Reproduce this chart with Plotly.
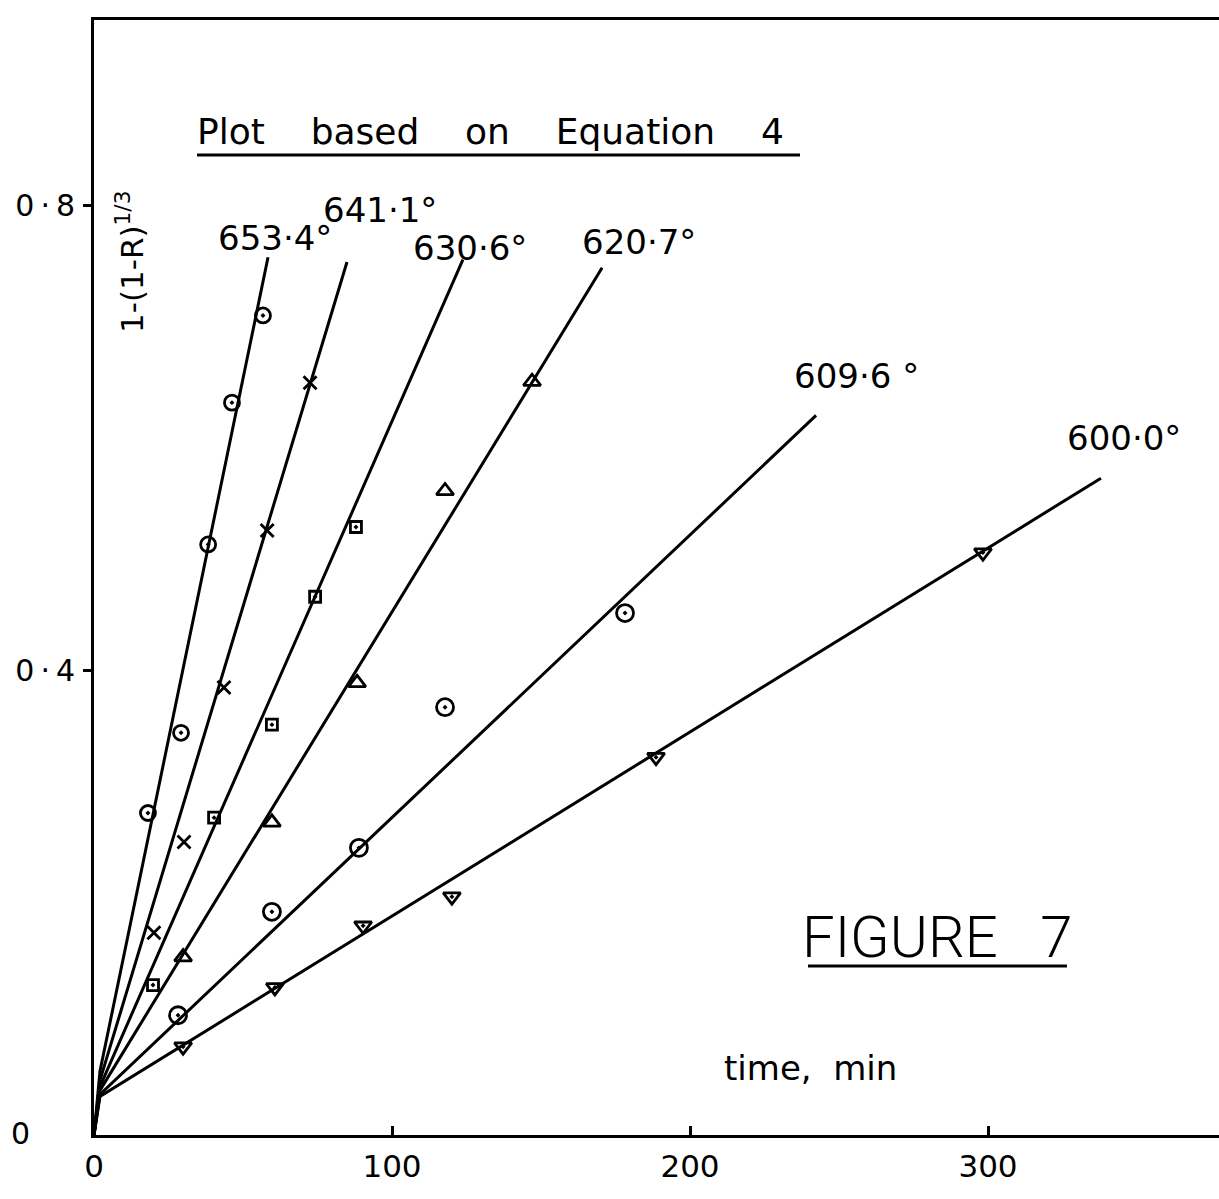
import plotly.graph_objects as go

# ---------------- data ----------------
series_names = ["653·4°", "641·1°", "630·6°", "620·7°", "609·6 °", "600·0°"]

t_653 = [18.1, 29.2, 38.3, 46.3, 56.7]
y_653 = [0.277, 0.346, 0.508, 0.630, 0.705]

t_641 = [20.1, 30.2, 43.6, 58.1, 72.5]
y_641 = [0.174, 0.252, 0.385, 0.520, 0.647]

t_630 = [19.8, 40.3, 59.7, 74.2, 87.9]
y_630 = [0.129, 0.273, 0.353, 0.463, 0.523]

t_620 = [29.9, 59.7, 88.3, 117.8, 147.0]
y_620 = [0.153, 0.269, 0.389, 0.554, 0.648]

t_609 = [28.2, 59.7, 88.9, 117.8, 178.2]
y_609 = [0.103, 0.192, 0.247, 0.368, 0.449]

t_600 = [29.9, 60.7, 90.3, 120.1, 188.6, 298.3]
y_600 = [0.076, 0.127, 0.180, 0.205, 0.325, 0.501]

# fitted straight lines: common intercept, end point of each drawn line
fit_intercept = 0.03
fit_join_t = 2.0
line_end_t = [58.4, 84.9, 123.8, 170.5, 242.3, 337.9]
line_end_y = [0.755, 0.751, 0.753, 0.746, 0.619, 0.565]

x_tick_vals = [0, 100, 200, 300]
x_tick_text = ["0", "100", "200", "300"]
y_tick_vals = [0.4, 0.8]
y_tick_text = ["0\u2009·\u20094", "0\u2009·\u20098"]

# ---------------- layout geometry ----------------
W_FIG, H_FIG = 1219, 1199
ML, MR, MT, MB = 94, 0, 20, 64
PW = W_FIG - ML - MR
PH = H_FIG - MT - MB
PX_PER_MIN = 2.98
PX_PER_UNIT = 1162.5


def px_x(p):
    return (p - ML) / PW


def px_y(p):
    return 1 - (p - MT) / PH


FONT = "DejaVu Sans"

series_t = [t_653, t_641, t_630, t_620, t_609, t_600]
series_y = [y_653, y_641, y_630, y_620, y_609, y_600]
symbols = ["circle-open-dot", "x-thin", "square-open-dot", "triangle-up-open",
           "circle-open-dot", "triangle-down-open-dot"]
sizes = [15, 13, 11, 15, 17, 15]

fig = go.Figure()

for i in range(len(series_names)):
    slope = (line_end_y[i] - fit_intercept) / line_end_t[i]
    lx = [0, fit_join_t, line_end_t[i]]
    ly = [0, fit_intercept + slope * fit_join_t, line_end_y[i]]
    fig.add_trace(go.Scatter(x=lx, y=ly, mode="lines",
                             line=dict(color="black", width=3),
                             hoverinfo="skip", showlegend=False))
    fig.add_trace(go.Scatter(x=series_t[i], y=series_y[i], mode="markers",
                             name=series_names[i],
                             marker=dict(symbol=symbols[i], size=sizes[i],
                                         color="black",
                                         line=dict(color="black", width=2.8)),
                             showlegend=False))

# series labels (pixel centres of the label text)
label_px = [(275, 238), (380, 210), (470, 248), (639, 242), (857, 376), (1124, 438)]
annotations = []
for name, (px, py) in zip(series_names, label_px):
    annotations.append(dict(x=px_x(px), y=px_y(py), xref="paper", yref="paper",
                            text=name, showarrow=False,
                            font=dict(family=FONT, size=34, color="black"),
                            xanchor="center", yanchor="middle"))

nb = "\u00a0" * 4
annotations.append(dict(x=px_x(491), y=px_y(131), xref="paper", yref="paper",
                        text=f"Plot{nb}based{nb}on{nb}Equation{nb}4",
                        showarrow=False,
                        font=dict(family=FONT, size=36, color="black"),
                        xanchor="center", yanchor="middle"))
annotations.append(dict(x=px_x(937), y=px_y(937), xref="paper", yref="paper",
                        text="FIGURE\u00a0\u00a0\u00a07", showarrow=False,
                        font=dict(family="Roboto", size=58, color="black", weight=300),
                        xanchor="center", yanchor="middle"))
annotations.append(dict(x=px_x(810), y=px_y(1068), xref="paper", yref="paper",
                        text="time,\u00a0\u00a0min", showarrow=False,
                        font=dict(family=FONT, size=34, color="black"),
                        xanchor="center", yanchor="middle"))
annotations.append(dict(x=px_x(130), y=px_y(262), xref="paper", yref="paper",
                        text="1-(1-R)<sup>1/3</sup>", showarrow=False, textangle=-90,
                        font=dict(family=FONT, size=31, color="black"),
                        xanchor="center", yanchor="middle"))
annotations.append(dict(x=px_x(20), y=px_y(1133), xref="paper", yref="paper",
                        text="0", showarrow=False,
                        font=dict(family=FONT, size=30, color="black"),
                        xanchor="center", yanchor="middle"))

shapes = [
    dict(type="line", xref="paper", yref="paper",
         x0=px_x(197), x1=px_x(800), y0=px_y(155), y1=px_y(155),
         line=dict(color="black", width=3)),
    dict(type="line", xref="paper", yref="paper",
         x0=px_x(808), x1=px_x(1067), y0=px_y(966), y1=px_y(966),
         line=dict(color="black", width=3)),
]

fig.update_layout(
    width=W_FIG, height=H_FIG,
    margin=dict(l=ML, r=MR, t=MT, b=MB),
    plot_bgcolor="white", paper_bgcolor="white",
    showlegend=False,
    annotations=annotations,
    shapes=shapes,
    xaxis=dict(range=[0, PW / PX_PER_MIN], showline=True, linewidth=3,
               linecolor="black", mirror=True, ticks="inside", ticklen=9,
               tickwidth=3, tickcolor="black", tickvals=x_tick_vals,
               ticktext=x_tick_text, showgrid=False, zeroline=False,
               tickfont=dict(family=FONT, size=31, color="black"),
               ticklabelstandoff=2),
    yaxis=dict(range=[0, PH / PX_PER_UNIT], showline=True, linewidth=3,
               linecolor="black", mirror=False, ticks="outside", ticklen=8,
               tickwidth=3, tickcolor="black", tickvals=y_tick_vals,
               ticktext=y_tick_text, showgrid=False, zeroline=False,
               tickfont=dict(family=FONT, size=30, color="black"),
               ticklabelstandoff=2),
)

fig.write_html("out.html",
               config={"displayModeBar": False},
               post_script="document.body.style.margin='0px';"
                           "document.body.style.overflow='hidden';")
